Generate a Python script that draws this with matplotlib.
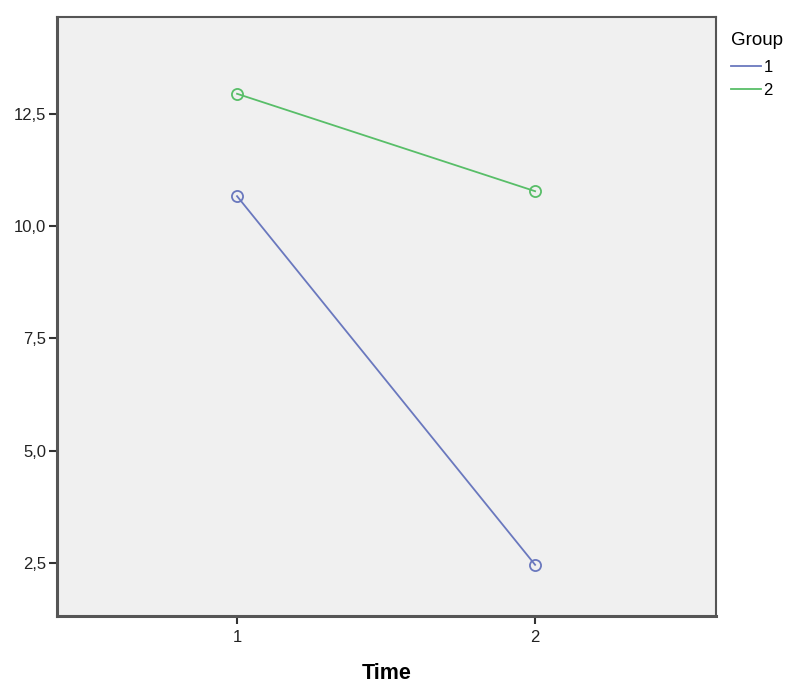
import matplotlib.pyplot as plt

# Values
time_points = [1, 2]
group_labels = ['1', '2']
group1_means = [10.67, 2.46]
group2_means = [12.95, 10.78]
y_ticks = [2.5, 5.0, 7.5, 10.0, 12.5]

plt.rcParams['font.family'] = ['Liberation Sans', 'DejaVu Sans']

fig = plt.figure(figsize=(7.94, 6.93), dpi=100)
ax = fig.add_axes([0.0718, 0.1111, 0.830, 0.8644])
ax.set_facecolor('#f0f0f0')

colors = ['#6a78be', '#58be68']
for means, lab, col in zip([group1_means, group2_means], group_labels, colors):
    ax.plot(time_points, means, color=col, linewidth=1.3, label=lab,
            marker='o', markersize=8, markerfacecolor='none',
            markeredgecolor=col, markeredgewidth=1.3)

ax.set_xlim(0.396, 2.607)
ax.set_ylim(1.32, 14.66)
ax.set_xticks(time_points)
ax.set_xticklabels(['1', '2'])
ax.set_yticks(y_ticks)
ax.set_yticklabels([f'{v:.1f}'.replace('.', ',') for v in y_ticks])
ax.tick_params(axis='both', direction='out', length=6, width=1.5, pad=2,
               colors='#333333', labelsize=12, labelcolor='#222222')
ax.tick_params(axis='x', pad=4)

for side in ['left', 'bottom', 'top', 'right']:
    ax.spines[side].set_color('#555555')
    ax.spines[side].set_linewidth(1.5)
ax.spines['left'].set_linewidth(2.2)
ax.spines['bottom'].set_linewidth(2.2)

ax.set_xlabel('Time', fontsize=15.5, fontweight='bold', labelpad=13)

leg = ax.legend(title='Group', loc='upper left', bbox_to_anchor=(1.0, 1.0),
                frameon=False, fontsize=12, title_fontsize=13.5,
                handlelength=1.8, handletextpad=0.15, labelspacing=0.45,
                borderaxespad=0.5)
leg._legend_box.align = 'left'
leg._legend_box.sep = 8
for line in leg.get_lines():
    line.set_marker('')

fig.savefig('out.png', dpi=100)
